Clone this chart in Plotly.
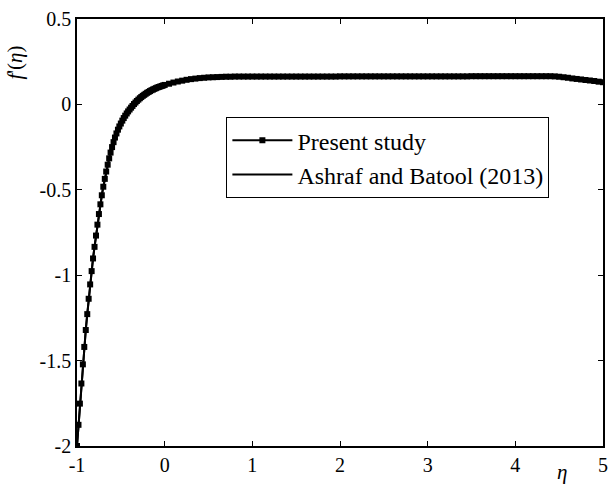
import plotly.graph_objects as go

# eta grid, dense part (step 1/60) from -1 to 0
eta_steep = [-1.000, -0.983, -0.967, -0.950, -0.933, -0.917, -0.900, -0.883, -0.867, -0.850,
             -0.833, -0.817, -0.800, -0.783, -0.767, -0.750, -0.733, -0.717, -0.700, -0.683,
             -0.667, -0.650, -0.633, -0.617, -0.600, -0.583, -0.567, -0.550, -0.533, -0.517,
             -0.500, -0.483, -0.467, -0.450, -0.433, -0.417, -0.400, -0.383, -0.367, -0.350,
             -0.333, -0.317, -0.300, -0.283, -0.267, -0.250, -0.233, -0.217, -0.200, -0.183,
             -0.167, -0.150, -0.133, -0.117, -0.100, -0.083, -0.067, -0.050, -0.033, -0.017,
             0.000]
f_steep = [-2.000, -1.876, -1.752, -1.634, -1.522, -1.420, -1.321, -1.228, -1.138, -1.054,
           -0.976, -0.902, -0.834, -0.768, -0.704, -0.642, -0.585, -0.532, -0.482, -0.436,
           -0.393, -0.353, -0.316, -0.282, -0.250, -0.221, -0.194, -0.170, -0.148, -0.129,
           -0.112, -0.095, -0.080, -0.066, -0.053, -0.041, -0.030, -0.019, -0.009, 0.002,
           0.011, 0.020, 0.028, 0.036, 0.043, 0.050, 0.056, 0.062, 0.068, 0.073,
           0.078, 0.083, 0.087, 0.091, 0.095, 0.099, 0.102, 0.105, 0.108, 0.111,
           0.114]

# eta grid, outer part (step 0.05) from 0.05 to 5
eta_outer = [0.05, 0.10, 0.15, 0.20, 0.25, 0.30, 0.35, 0.40, 0.45, 0.50,
             0.55, 0.60, 0.65, 0.70, 0.75, 0.80, 0.85, 0.90, 0.95, 1.00,
             1.05, 1.10, 1.15, 1.20, 1.25, 1.30, 1.35, 1.40, 1.45, 1.50,
             1.55, 1.60, 1.65, 1.70, 1.75, 1.80, 1.85, 1.90, 1.95, 2.00,
             2.05, 2.10, 2.15, 2.20, 2.25, 2.30, 2.35, 2.40, 2.45, 2.50,
             2.55, 2.60, 2.65, 2.70, 2.75, 2.80, 2.85, 2.90, 2.95, 3.00,
             3.05, 3.10, 3.15, 3.20, 3.25, 3.30, 3.35, 3.40, 3.45, 3.50,
             3.55, 3.60, 3.65, 3.70, 3.75, 3.80, 3.85, 3.90, 3.95, 4.00,
             4.05, 4.10, 4.15, 4.20, 4.25, 4.30, 4.35, 4.40, 4.45, 4.50,
             4.55, 4.60, 4.65, 4.70, 4.75, 4.80, 4.85, 4.90, 4.95, 5.00]
f_outer = [0.121, 0.128, 0.134, 0.139, 0.144, 0.148, 0.151, 0.154, 0.156, 0.158,
           0.159, 0.160, 0.161, 0.162, 0.162, 0.163, 0.163, 0.163, 0.163, 0.163,
           0.163, 0.163, 0.163, 0.163, 0.163, 0.163, 0.163, 0.163, 0.163, 0.163,
           0.163, 0.163, 0.163, 0.163, 0.163, 0.163, 0.163, 0.163, 0.163, 0.164,
           0.164, 0.164, 0.164, 0.164, 0.164, 0.164, 0.164, 0.164, 0.164, 0.164,
           0.164, 0.164, 0.164, 0.164, 0.164, 0.164, 0.164, 0.164, 0.164, 0.164,
           0.164, 0.164, 0.164, 0.164, 0.164, 0.164, 0.164, 0.164, 0.164, 0.165,
           0.165, 0.165, 0.165, 0.165, 0.165, 0.165, 0.165, 0.165, 0.165, 0.165,
           0.165, 0.165, 0.165, 0.165, 0.165, 0.165, 0.165, 0.165, 0.164, 0.162,
           0.159, 0.156, 0.152, 0.149, 0.146, 0.143, 0.140, 0.137, 0.133, 0.130]

eta = eta_steep + eta_outer
fprime = f_steep + f_outer

x_ticks = [-1, 0, 1, 2, 3, 4, 5]
x_ticklabels = ["-1", "0", "1", "2", "3", "4", "5"]
y_ticks = [0.5, 0, -0.5, -1, -1.5, -2]
y_ticklabels = ["0.5", "0", "-0.5", "-1", "-1.5", "-2"]

FONT = "Liberation Serif"

fig = go.Figure()
fig.add_trace(go.Scatter(
    x=eta, y=fprime, mode="lines+markers", name="Present study",
    line=dict(color="black", width=2),
    marker=dict(symbol="square", size=6, color="black"),
))
fig.add_trace(go.Scatter(
    x=eta, y=fprime, mode="lines", name="Ashraf and Batool (2013)",
    line=dict(color="black", width=2),
))

axis_common = dict(
    showgrid=False, zeroline=False, showline=True, linecolor="black", linewidth=1.5,
    mirror="ticks", ticks="inside", ticklen=5, tickwidth=1, tickcolor="black",
    tickfont=dict(family=FONT, size=20, color="black"),
)
fig.update_xaxes(range=[-1, 5], tickvals=x_ticks, ticktext=x_ticklabels, **axis_common)
fig.update_yaxes(range=[-2, 0.5], tickvals=y_ticks, ticktext=y_ticklabels, **axis_common)

fig.update_layout(
    width=615, height=485,
    margin=dict(l=77, r=7, t=19, b=39),
    plot_bgcolor="white", paper_bgcolor="white",
    showlegend=True,
    legend=dict(
        x=0.284, y=0.770, xanchor="left", yanchor="top",
        bgcolor="white", bordercolor="black", borderwidth=1,
        itemwidth=60,
        font=dict(family=FONT, size=24, color="black"),
    ),
    annotations=[
        dict(text="<i>f</i>'(<i>η</i>)", xref="paper", yref="paper", x=-0.117, y=0.899,
             xanchor="center", yanchor="middle",
             showarrow=False, textangle=-90, font=dict(family=FONT, size=21, color="black")),
        dict(text="<i>η</i>", xref="paper", yref="paper", x=0.923, y=-0.061,
             xanchor="center", yanchor="middle",
             showarrow=False, font=dict(family=FONT, size=21, color="black")),
    ],
)

fig.write_html("out.html")
